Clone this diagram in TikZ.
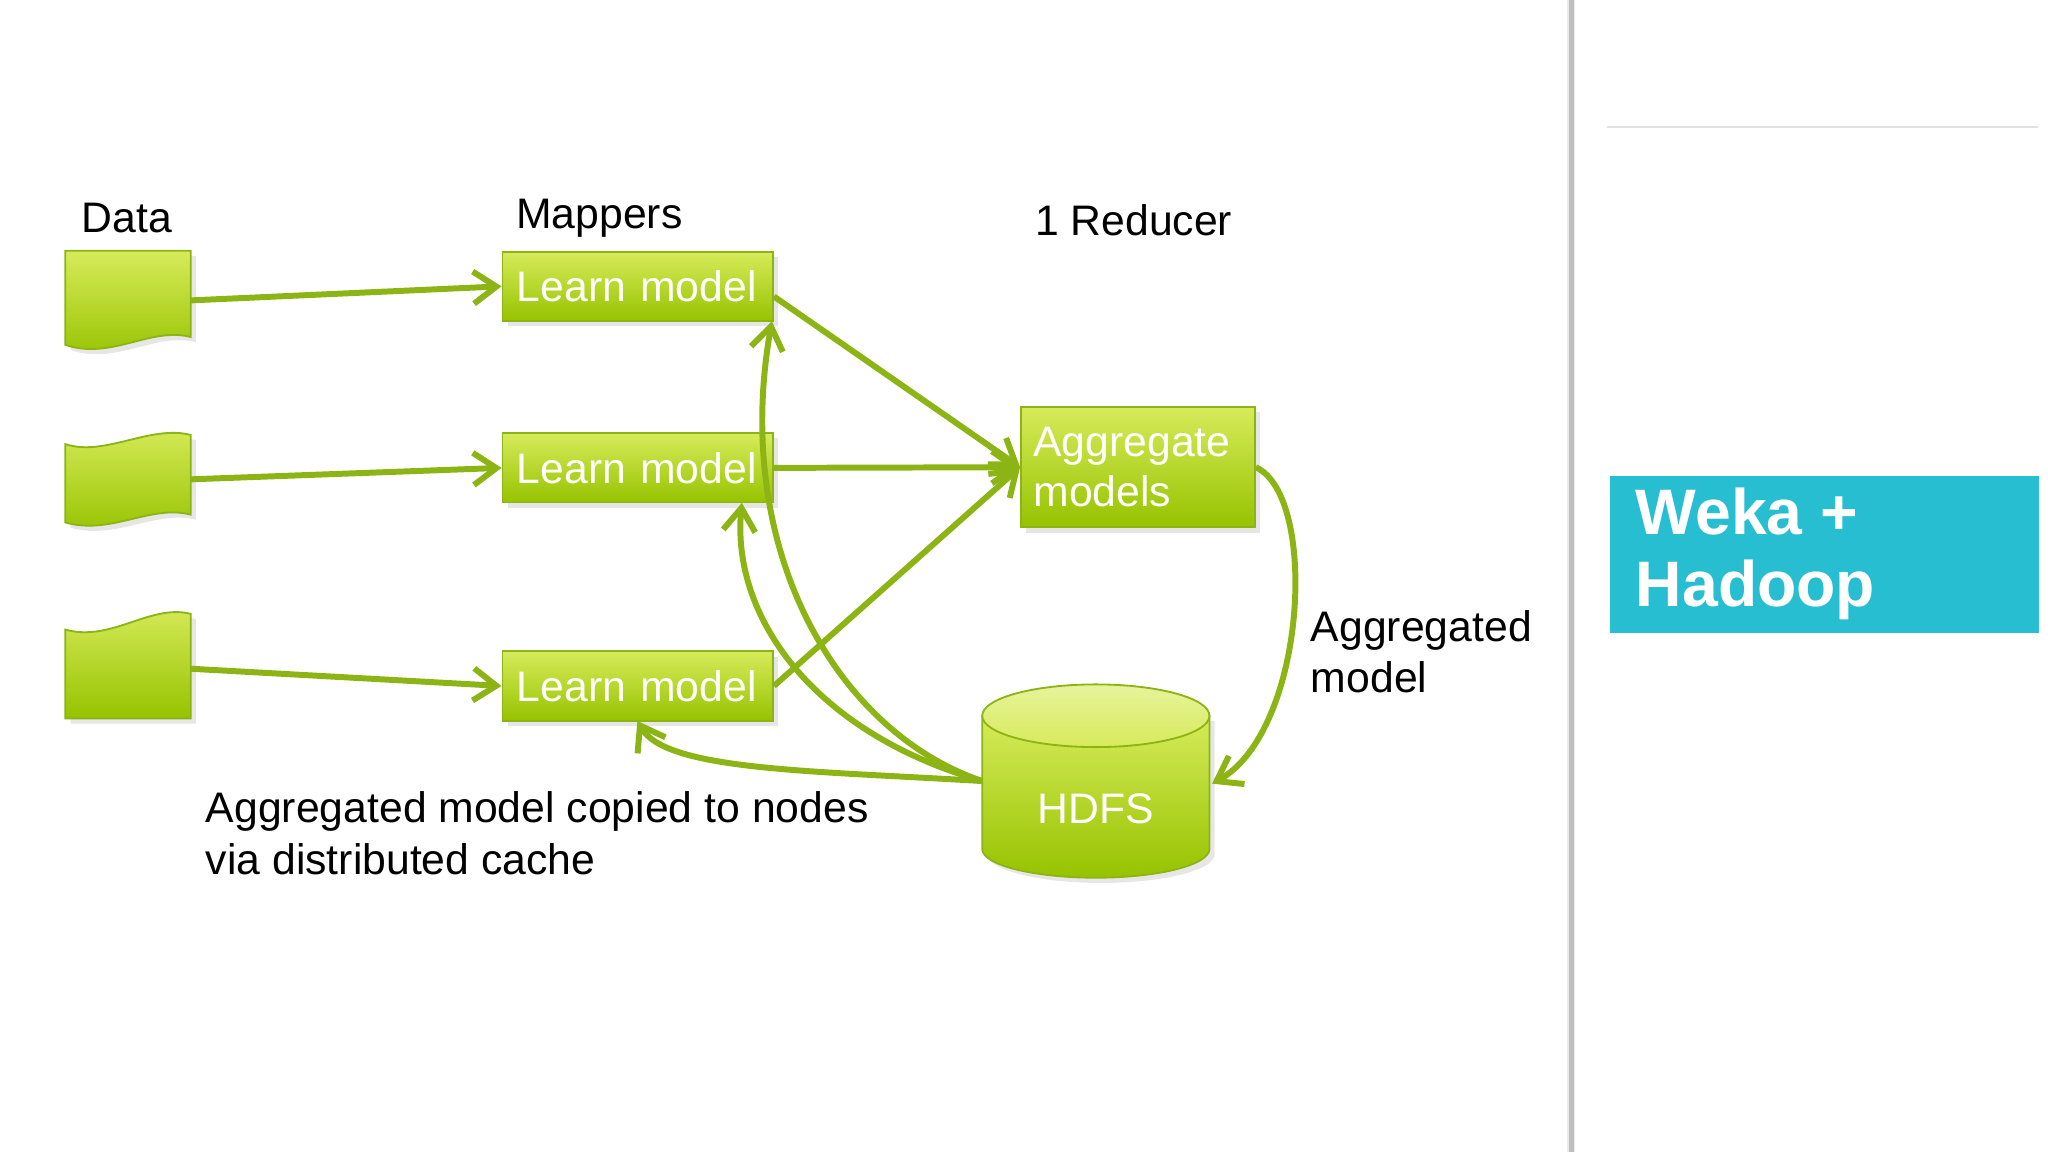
\documentclass[tikz,border=0pt]{standalone}
\usepackage{fontspec}
\setmainfont{Liberation Sans}
\usetikzlibrary{arrows.meta,shadows}
\definecolor{edge}{RGB}{140,180,20}
\definecolor{gtop}{RGB}{215,235,90}
\definecolor{gbot}{RGB}{150,195,0}
\definecolor{teal}{RGB}{40,190,210}
\begin{document}
\begin{tikzpicture}[x=0.01cm,y=-0.01cm,
  shd/.style={drop shadow={opacity=0.2,shadow xshift=0.04cm,shadow yshift=-0.04cm}},
  box/.style={draw=edge,top color=gtop,bottom color=gbot,text=white,shd,
    font=\fontsize{9.3}{11}\selectfont,inner sep=0pt,align=left},
  doc/.style={draw=edge,top color=gtop,bottom color=gbot,shd},
  lbl/.style={font=\fontsize{9.3}{11.2}\selectfont,align=left,inner sep=0pt},
  arr/.style={draw=edge,line width=1.3pt,-{Straight Barb[length=5pt,width=7pt]}}]
\useasboundingbox (0,0) rectangle (1568,882);
% divider and right panel
\fill[black!8] (1200,0) rectangle (1206,882);
\draw[black!25,line width=1pt] (1203,0) -- (1203,882);
\draw[black!12] (1230,97) -- (1560,97);
\node[fill=teal,minimum width=3.28cm,minimum height=1.2cm,anchor=north west,inner sep=0pt] (tb) at (1232,364) {};
\node[anchor=west,text=white,font=\fontsize{14}{15.5}\selectfont\bfseries,align=left] (tt) at (1240,424) {Weka +\\Hadoop};
% documents
\path[doc] (50,192) -- (146,192) -- (146,258) .. controls (115,250) and (85,276) .. (50,264) -- cycle;
\path[doc] (50,340) .. controls (80,350) and (115,325) .. (146,333) -- (146,394) .. controls (115,386) and (85,410) .. (50,400) -- cycle;
\path[doc] (50,482) .. controls (85,492) and (115,462) .. (146,470) -- (146,550) -- (50,550) -- cycle;
\coordinate (d1) at (146,230);
\coordinate (d2) at (146,367);
\coordinate (d3) at (146,512);
% HDFS cylinder
\path[doc] (752,548) -- (752,650) arc[start angle=180,end angle=0,x radius=87,y radius=22] -- (926,548) -- cycle;
\draw[edge,top color=gtop!60!white,bottom color=gtop] (839,548) ellipse[x radius=87,y radius=24];
\node[text=white,font=\fontsize{9.3}{11}\selectfont] (hd) at (839,619) {HDFS};
\coordinate (he) at (928,600);
\coordinate (hw) at (752,598);
% nodes
\node[box,minimum width=2.07cm,minimum height=0.53cm,anchor=north west,text width=1.85cm] (m1) at (384,192) {Learn model};
\node[box,minimum width=2.07cm,minimum height=0.53cm,anchor=north west,text width=1.85cm] (m2) at (384,331) {Learn model};
\node[box,minimum width=2.07cm,minimum height=0.53cm,anchor=north west,text width=1.85cm] (m3) at (384,498) {Learn model};
\node[box,minimum width=1.79cm,minimum height=0.92cm,anchor=north west,text width=1.6cm] (ag) at (781,311) {Aggregate\\models};
% labels
\node[lbl] (l1) at (97,167) {Data};
\node[lbl] (l2) at (459,167) {Mappers};
\node[lbl] (l3) at (868,169) {1 Reducer};
\node[lbl,anchor=west] (l4) at (1003,499) {Aggregated\\model};
\node[lbl,anchor=west] (l5) at (157,638) {Aggregated model copied to nodes\\via distributed cache};
% arrows
\draw[arr] (d1) -- (m1.west);
\draw[arr] (d2) -- (m2.west);
\draw[arr] (d3) -- (m3.west);
\draw[arr] (m1.north east) ++(0,35) -- (ag.west);
\draw[arr] (m2.east) -- (ag.west);
\draw[arr] (m3.east) -- (ag.west);
\draw[arr] (ag.east) .. controls (1010,380) and (1000,560) .. (he);
\draw[arr] (hw) .. controls (640,560) and (560,420) .. (591,246);
\draw[arr] (hw) .. controls (620,560) and (560,470) .. (568,385);
\draw[arr] (hw) .. controls (620,590) and (510,590) .. (488,552);
\end{tikzpicture}
\end{document}
